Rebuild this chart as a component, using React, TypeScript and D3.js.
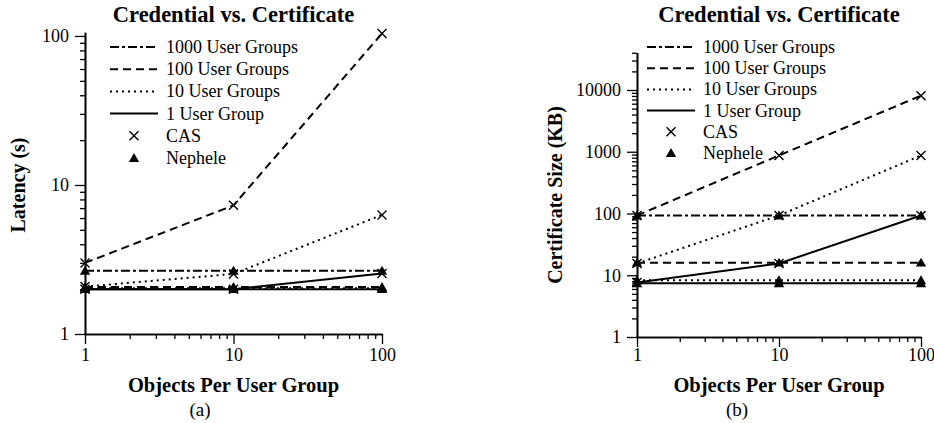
import React, { useEffect, useRef } from "react";
import * as d3 from "d3";

// objects per user group (x)
const objects = [1, 10, 100];

// (a) latency in seconds
const latCas1 = [2.0, 2.0, 2.55];
const latCas10 = [2.08, 2.53, 6.3];
const latCas100 = [3.0, 7.3, 104];
const latNeph1 = [2.0, 2.0, 2.0];
const latNeph10 = [2.03, 2.03, 2.03];
const latNeph100 = [2.07, 2.07, 2.07];
const latNeph1000 = [2.66, 2.66, 2.66];

// (b) certificate size in KB
const sizeCas1 = [7.6, 15.5, 93];
const sizeCas10 = [15.5, 93, 870];
const sizeCas100 = [93, 870, 8100];
const sizeNeph1 = [7.4, 7.4, 7.4];
const sizeNeph10 = [8.3, 8.3, 8.3];
const sizeNeph100 = [16, 16, 16];
const sizeNeph1000 = [93, 93, 93];

const legendLabels = ["1000 User Groups", "100 User Groups", "10 User Groups", "1 User Group", "CAS", "Nephele"];
const groupDash = { g1000: "9,3,3,3", g100: "8,5", g10: "2,4", g1: null };

const FONT = "'Liberation Serif', 'Times New Roman', serif";

function drawPanel(svg, cfg) {
  const g = svg.append("g");
  const x = d3.scaleLog().domain([1, 100]).range([cfg.x0, cfg.x1]);
  const y = d3.scaleLog().domain(cfg.yDomain).range([cfg.y0, cfg.y1]);

  // minor ticks
  const minorX = [];
  for (let d = 1; d < 100; d *= 10) for (let k = 2; k <= 9; k++) minorX.push(d * k);
  const minorY = [];
  for (let d = 1; d < cfg.yDomain[1]; d *= 10)
    for (let k = 2; k <= 9; k++) if (d * k <= cfg.yDomain[1]) minorY.push(d * k);

  const styleAxis = (sel) => {
    sel.select(".domain").attr("stroke", "#000").attr("stroke-width", 1.6);
    sel.selectAll(".tick line").attr("stroke", "#000").attr("stroke-width", 1.3);
    sel.selectAll("text").attr("font-family", FONT).attr("font-size", 18).attr("fill", "#000");
  };

  g.append("g")
    .attr("transform", `translate(0, ${cfg.y0})`)
    .call(d3.axisBottom(x).tickValues(minorX).tickSize(5).tickSizeOuter(0).tickFormat(() => ""))
    .call(styleAxis);
  g.append("g")
    .attr("transform", `translate(0, ${cfg.y0})`)
    .call(d3.axisBottom(x).tickValues(objects).tickSize(10).tickSizeOuter(0).tickPadding(cfg.xPad).tickFormat(d3.format("d")))
    .call(styleAxis);

  g.append("g")
    .attr("transform", `translate(${cfg.x0}, 0)`)
    .call(d3.axisLeft(y).tickValues(minorY).tickSize(5).tickSizeOuter(0).tickFormat(() => ""))
    .call(styleAxis);
  g.append("g")
    .attr("transform", `translate(${cfg.x0}, 0)`)
    .call(d3.axisLeft(y).tickValues(cfg.yMajor).tickSize(10).tickSizeOuter(0).tickPadding(6).tickFormat(d3.format("d")))
    .call(styleAxis);

  const line = d3
    .line()
    .x((d, i) => x(objects[i]))
    .y((d) => y(d));

  cfg.series.forEach((s) => {
    g.append("path")
      .datum(s.values)
      .attr("d", line)
      .attr("fill", "none")
      .attr("stroke", "#000")
      .attr("stroke-width", 2)
      .attr("stroke-dasharray", s.dash);
  });

  const tri = d3.symbol().type(d3.symbolTriangle).size(46)();
  cfg.series.forEach((s) => {
    s.values.forEach((v, i) => {
      const px = x(objects[i]);
      const py = y(v);
      if (s.marker === "x") {
        g.append("path")
          .attr("d", "M-4.5,-4.5L4.5,4.5M-4.5,4.5L4.5,-4.5")
          .attr("transform", `translate(${px}, ${py})`)
          .attr("stroke", "#000")
          .attr("stroke-width", 1.4)
          .attr("fill", "none");
      } else {
        g.append("path")
          .attr("d", tri)
          .attr("transform", `translate(${px}, ${py + 1})`)
          .attr("fill", "#000");
      }
    });
  });

  // legend
  const dashes = [groupDash.g1000, groupDash.g100, groupDash.g10, groupDash.g1];
  legendLabels.forEach((lab, i) => {
    const ly = cfg.legY + i * cfg.legStep;
    const lx0 = cfg.legX;
    const lx1 = cfg.legX + 48;
    if (i < 4) {
      g.append("line")
        .attr("x1", lx0)
        .attr("x2", lx1)
        .attr("y1", ly)
        .attr("y2", ly)
        .attr("stroke", "#000")
        .attr("stroke-width", 2)
        .attr("stroke-dasharray", dashes[i]);
    } else if (i === 4) {
      g.append("path")
        .attr("d", "M-4.5,-4.5L4.5,4.5M-4.5,4.5L4.5,-4.5")
        .attr("transform", `translate(${(lx0 + lx1) / 2}, ${ly})`)
        .attr("stroke", "#000")
        .attr("stroke-width", 1.4);
    } else {
      g.append("path")
        .attr("d", tri)
        .attr("transform", `translate(${(lx0 + lx1) / 2}, ${ly + 1})`)
        .attr("fill", "#000");
    }
    g.append("text")
      .attr("x", lx1 + 8)
      .attr("y", ly)
      .attr("dominant-baseline", "central")
      .attr("font-family", FONT)
      .attr("font-size", 18)
      .text(lab);
  });

  const midX = (cfg.x0 + cfg.x1) / 2;
  g.append("text")
    .attr("x", midX)
    .attr("y", 22)
    .attr("text-anchor", "middle")
    .attr("font-family", FONT)
    .attr("font-weight", "bold")
    .attr("font-size", 22.5)
    .text("Credential vs. Certificate");

  g.append("text")
    .attr("x", midX)
    .attr("y", 392)
    .attr("text-anchor", "middle")
    .attr("font-family", FONT)
    .attr("font-weight", "bold")
    .attr("font-size", 20.5)
    .text("Objects Per User Group");

  g.append("text")
    .attr("x", cfg.capX)
    .attr("y", 416)
    .attr("text-anchor", "middle")
    .attr("font-family", FONT)
    .attr("font-size", 19)
    .text(cfg.caption);

  g.append("text")
    .attr("transform", `translate(${cfg.yLabX}, ${cfg.yLabY}) rotate(-90)`)
    .attr("text-anchor", "middle")
    .attr("dominant-baseline", "central")
    .attr("font-family", FONT)
    .attr("font-weight", "bold")
    .attr("font-size", 20)
    .text(cfg.yLabel);
}

export default function App() {
  const ref = useRef(null);

  useEffect(() => {
    const svg = d3.select(ref.current);
    svg.selectAll("*").remove();

    drawPanel(svg, {
      x0: 85,
      x1: 382,
      y0: 334,
      y1: 32.2,
      yDomain: [1, 106],
      yMajor: [1, 10, 100],
      xPad: 4,
      legX: 110,
      legY: 47,
      legStep: 22.2,
      capX: 200,
      caption: "(a)",
      yLabX: 18,
      yLabY: 185,
      yLabel: "Latency (s)",
      series: [
        { values: latNeph1000, dash: groupDash.g1000, marker: "tri" },
        { values: latCas100, dash: groupDash.g100, marker: "x" },
        { values: latNeph100, dash: groupDash.g100, marker: "tri" },
        { values: latCas10, dash: groupDash.g10, marker: "x" },
        { values: latNeph10, dash: groupDash.g10, marker: "tri" },
        { values: latCas1, dash: groupDash.g1, marker: "x" },
        { values: latNeph1, dash: groupDash.g1, marker: "tri" },
      ],
    });

    drawPanel(svg, {
      x0: 637,
      x1: 921,
      y0: 337,
      y1: 52.8,
      yDomain: [1, 40000],
      yMajor: [1, 10, 100, 1000, 10000],
      xPad: 1.5,
      legX: 647,
      legY: 47,
      legStep: 21.2,
      capX: 737,
      caption: "(b)",
      yLabX: 555,
      yLabY: 195,
      yLabel: "Certificate Size (KB)",
      series: [
        { values: sizeNeph1000, dash: groupDash.g1000, marker: "tri" },
        { values: sizeCas100, dash: groupDash.g100, marker: "x" },
        { values: sizeNeph100, dash: groupDash.g100, marker: "tri" },
        { values: sizeCas10, dash: groupDash.g10, marker: "x" },
        { values: sizeNeph10, dash: groupDash.g10, marker: "tri" },
        { values: sizeCas1, dash: groupDash.g1, marker: "x" },
        { values: sizeNeph1, dash: groupDash.g1, marker: "tri" },
      ],
    });
  }, []);

  return (
    <svg
      ref={ref}
      width={934}
      height={423}
      style={{ position: "absolute", left: 0, top: 0, background: "#fff" }}
    />
  );
}
